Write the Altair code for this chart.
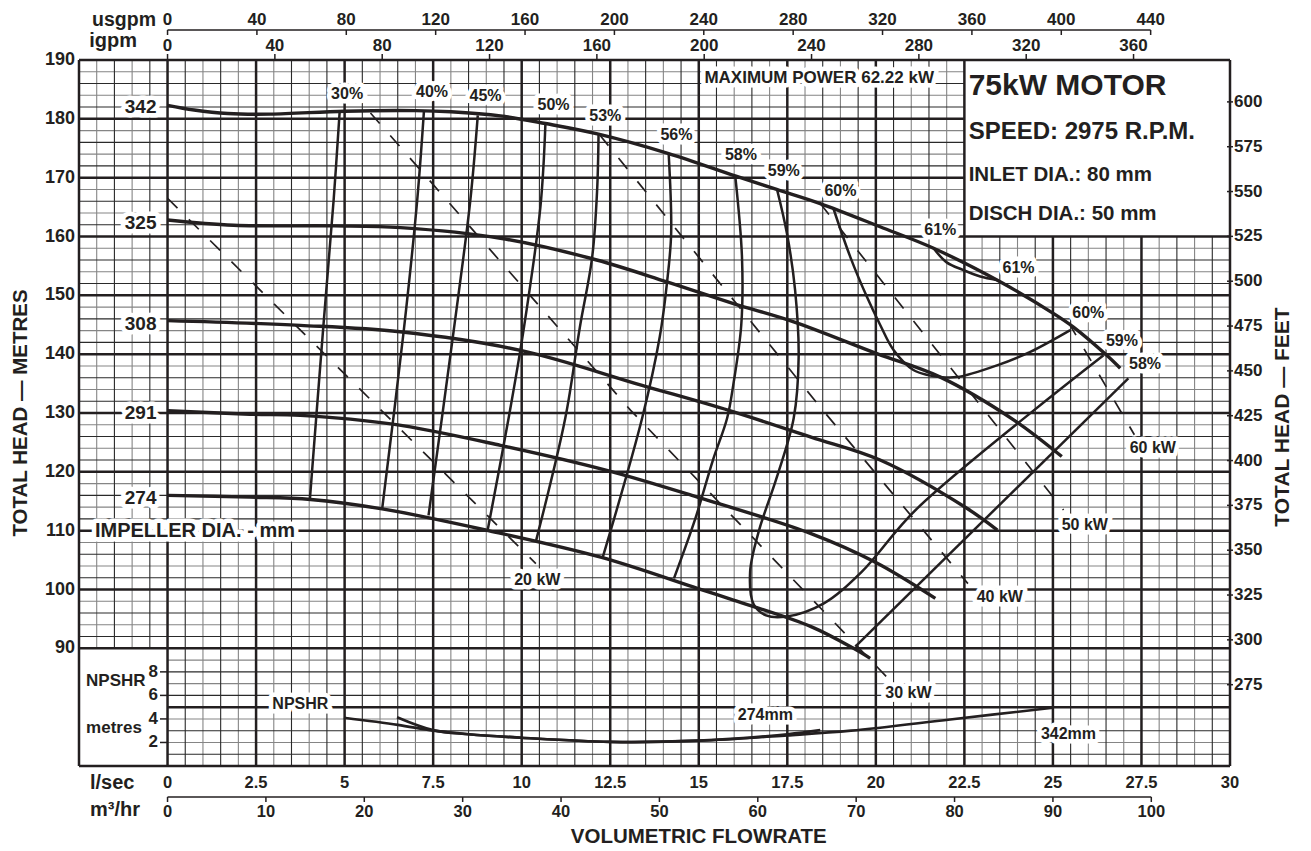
import altair as alt
import numpy as np
import pandas as pd

FONT = "Liberation Sans"
INK = "#231f20"
W, H = 1151, 706
XS = alt.Scale(domain=[-2.5, 30], nice=False, zero=False)
YS = alt.Scale(domain=[70, 190], nice=False, zero=False)

# ---------------- impeller head curves (flow l/sec, head m) ----------------
imp_names = ["342", "325", "308", "291", "274"]
imp_342_q = [0, 0.75, 1.7, 2.9, 5.0, 7.0, 8.0, 9.4, 10.67, 12.17, 14.15, 16.03, 17.2, 18.43, 20.12, 21.63, 23.42, 25.02, 25.58, 26.52, 26.9]
imp_342_h = [182.3, 181.5, 180.9, 180.8, 181.3, 181.4, 181.2, 180.5, 179.2, 177.4, 174.1, 170.3, 168.0, 165.6, 161.65, 158.0, 152.6, 146.9, 144.6, 139.8, 137.6]
imp_325_q = [0, 1.87, 4.7, 6.58, 9.4, 11.94, 14.1, 15.98, 17.68, 20.03, 21.82, 23.9, 25.25]
imp_325_h = [162.8, 161.9, 161.8, 161.5, 159.7, 156.3, 152.3, 148.6, 145.5, 140.1, 136.1, 128.8, 122.6]
imp_308_q = [0, 3.75, 6.56, 10.0, 13.4, 15.87, 18.17, 20.12, 22.57, 23.43]
imp_308_h = [145.7, 144.9, 143.8, 140.6, 134.7, 130.4, 125.9, 122.0, 113.8, 110.1]
imp_291_q = [0, 2.32, 3.75, 6.36, 9.4, 12.43, 14.96, 18.17, 20.0, 21.68]
imp_291_h = [130.4, 129.8, 129.6, 128.1, 124.5, 120.2, 115.7, 109.5, 104.6, 98.5]
imp_274_q = [0, 2.32, 4.04, 6.06, 8.99, 12.23, 14.96, 15.98, 18.17, 19.37, 19.84]
imp_274_h = [116.0, 115.7, 115.3, 113.7, 110.1, 105.5, 100.2, 98.2, 93.7, 90.0, 88.3]

# ---------------- iso-efficiency curves ----------------
e30_q = [4.86, 4.69, 4.39, 4.02]
e30_h = [181.2, 166.2, 144.0, 115.4]
e40_q = [7.24, 7.05, 6.67, 6.06]
e40_h = [181.3, 166.2, 144.0, 113.7]
e45_q = [8.76, 8.55, 8.08, 7.37]
e45_h = [180.6, 166.2, 144.0, 112.6]
e50_q = [10.67, 10.53, 10.05, 9.63, 9.04]
e50_h = [179.2, 165.1, 144.0, 129.1, 110.1]
e53_q = [12.17, 12.13, 11.99, 11.64, 11.23, 10.41]
e53_h = [177.4, 167.9, 156.5, 144.5, 129.1, 108.4]
e56_q = [14.15, 14.22, 14.1, 13.9, 13.4, 12.28]
e56_h = [174.1, 160.5, 152.0, 143.0, 129.1, 105.3]
e58a_q = [16.03, 16.22, 16.2, 15.98, 15.8, 15.4, 14.9, 14.3]
e58a_h = [170.3, 156.5, 145.0, 135.0, 129.1, 122.0, 112.0, 101.9]
e58b_q = [19.42, 27.13]
e58b_h = [90.3, 135.9]
e59_q = [17.21, 17.49, 17.72, 17.82, 17.68, 17.2, 16.7, 16.45, 16.55, 16.9, 17.48, 18.52, 19.6, 21.17, 26.43]
e59_h = [168.0, 160.5, 150.9, 139.5, 129.1, 119.0, 110.0, 103.0, 97.5, 95.6, 95.4, 97.6, 103.0, 113.8, 139.8]
e60_q = [18.8, 19.28, 19.75, 20.12, 20.5, 21.06, 21.5, 21.82, 22.29, 23.42, 24.36, 25.49]
e60_h = [164.8, 156.5, 149.7, 145.0, 140.7, 137.3, 136.4, 136.1, 136.1, 138.1, 140.4, 144.1]
e61_q = [21.63, 22.0, 22.47, 22.95, 23.42]
e61_h = [158.0, 155.6, 154.3, 153.2, 152.6]

# ---------------- power lines (dashed) ----------------
p20_q = [0, 10.4]
p20_h = [166.5, 104.4]
p30_q = [5.73, 13.07, 20.36]
p30_h = [181.0, 130.5, 84.8]
p40_q = [12.2, 18.43, 22.6]
p40_h = [177.3, 131.0, 101.0]
p50_q = [18.43, 25.3]
p50_h = [165.6, 113.5]
p60_q = [25.45, 27.3]
p60_h = [145.3, 126.3]

# ---------------- NPSHR curves (metres NPSHR) ----------------
n342_q = [4.98, 6.5, 7.5, 8.5, 10, 12.5, 15, 17.5, 19.3, 22.1, 25.0]
n342_v = [4.1, 3.5, 3.0, 2.7, 2.4, 2.05, 2.15, 2.6, 3.0, 3.95, 4.95]
n274_q = [6.48, 7.5, 8.5, 10, 12.5, 15, 17.5, 18.43]
n274_v = [4.15, 3.05, 2.7, 2.4, 2.05, 2.15, 2.7, 3.05]

# ---------------- labels ----------------
imp_label_q = -0.76
imp_label_h = [182.0, 162.3, 145.2, 130.0, 115.5]
eff_labels = ["30%", "40%", "45%", "50%", "53%", "56%", "58%", "59%", "60%", "61%", "61%", "60%", "59%", "58%"]
eff_label_q = [5.07, 7.47, 8.98, 10.9, 12.36, 14.37, 16.19, 17.4, 19.0, 21.82, 24.03, 26.0, 26.95, 27.6]
eff_label_h = [184.3, 184.6, 183.9, 182.3, 180.5, 177.2, 173.8, 171.2, 167.8, 161.1, 154.7, 147.0, 142.2, 138.3]
kw_labels = ["20 kW", "30 kW", "40 kW", "50 kW", "60 kW"]
kw_label_q = [10.44, 20.92, 23.5, 25.9, 27.82]
kw_label_h = [101.6, 82.4, 98.7, 110.9, 124.0]
npsh_labels = ["274mm", "342mm", "NPSHR"]
npsh_label_q = [16.88, 25.44, 3.75]
npsh_label_h = [78.6, 75.5, 80.6]

# axis tick values
metres_ticks = list(range(90, 191, 10))
lsec_ticks = [0, 2.5, 5, 7.5, 10, 12.5, 15, 17.5, 20, 22.5, 25, 27.5, 30]
m3hr_ticks = list(range(0, 101, 10))
usgpm_ticks = list(range(0, 441, 40))
igpm_ticks = list(range(0, 361, 40))
feet_ticks = list(range(275, 601, 25))
npshr_ticks = [2, 4, 6, 8]

USGPM = 0.0630902   # l/sec per usgpm
IGPM = 0.0757682    # l/sec per igpm
FT = 0.3048

def npsh_to_head(v):
    return [70 + 2 * x for x in v]

# ---------------- build tables ----------------
def curves(named):
    rows = []
    for name, qs, hs in named:
        for i, (q, h) in enumerate(zip(qs, hs)):
            rows.append(dict(curve=name, i=i, q=q, h=h))
    return pd.DataFrame(rows)

imp_df = curves([("342", imp_342_q, imp_342_h), ("325", imp_325_q, imp_325_h),
                 ("308", imp_308_q, imp_308_h), ("291", imp_291_q, imp_291_h),
                 ("274", imp_274_q, imp_274_h)])
eff_df = curves([("30", e30_q, e30_h), ("40", e40_q, e40_h), ("45", e45_q, e45_h),
                 ("50", e50_q, e50_h), ("53", e53_q, e53_h), ("56", e56_q, e56_h),
                 ("58a", e58a_q, e58a_h), ("58b", e58b_q, e58b_h), ("59", e59_q, e59_h),
                 ("60", e60_q, e60_h), ("61", e61_q, e61_h)])
pow_df = curves([("20", p20_q, p20_h), ("30", p30_q, p30_h), ("40", p40_q, p40_h),
                 ("50", p50_q, p50_h), ("60", p60_q, p60_h)])
npsh_df = curves([("342", n342_q, npsh_to_head(n342_v)), ("274", n274_q, npsh_to_head(n274_v))])

# grid
grid_rows = []
for q in np.round(np.arange(-2.5, 30.001, 0.5), 2):
    r = q / 2.5
    if abs(r - round(r)) < 1e-9:
        kind = "major"
    elif abs((q - np.floor(q)) - 0.5) < 1e-9:
        kind = "dark"
    else:
        kind = "light"
    y0 = 90 if (-2.5 < q < 0) else 70
    y1 = 160 if (22.5 < q < 30) else 190
    grid_rows.append(dict(x=float(q), x2=float(q), y=y0, y2=y1, kind=kind))
for h in range(70, 191, 2):
    m = h % 10
    kind = "major" if m == 0 else ("dark" if m in (2, 6) else "light")
    x0 = 0 if (70 < h < 90) else -2.5
    x1 = 22.5 if (160 < h < 190) else 30
    grid_rows.append(dict(x=x0, x2=x1, y=h, y2=h, kind=kind))
grid_df = pd.DataFrame(grid_rows)


def X(f="q"):
    return alt.X(f"{f}:Q", scale=XS, axis=None)


def Y(f="h"):
    return alt.Y(f"{f}:Q", scale=YS, axis=None)


layers = []
for kind, col, sw in [("light", "#858585", 1.1), ("dark", "#2a2a2a", 1.1), ("major", INK, 2.5)]:
    layers.append(
        alt.Chart(grid_df[grid_df.kind == kind]).mark_rule(color=col, strokeWidth=sw).encode(
            x=X("x"), x2="x2:Q", y=Y("y"), y2="y2:Q")
    )

# curves
layers.append(alt.Chart(pow_df).mark_line(color=INK, strokeWidth=1.7, strokeDash=[14, 16]).encode(
    x=X(), y=Y(), detail="curve:N", order="i:Q"))
layers.append(alt.Chart(eff_df).mark_line(color=INK, strokeWidth=2.5, interpolate="catmull-rom").encode(
    x=X(), y=Y(), detail="curve:N", order="i:Q"))
layers.append(alt.Chart(imp_df).mark_line(color=INK, strokeWidth=3.4, interpolate="catmull-rom").encode(
    x=X(), y=Y(), detail="curve:N", order="i:Q"))
layers.append(alt.Chart(npsh_df).mark_line(color=INK, strokeWidth=2.7, interpolate="catmull-rom").encode(
    x=X(), y=Y(), detail="curve:N", order="i:Q"))


def text_layers(df, size, align="center", halo=True, weight="bold", x=None, y=None,
                baseline="middle", angle=0, halo_w=9):
    enc = dict(text="t:N", x=x if x is not None else X(), y=y if y is not None else Y())
    out = []
    kw = dict(font=FONT, fontSize=size, fontWeight=weight, align=align, baseline=baseline, angle=angle)
    if halo:
        out.append(alt.Chart(df).mark_text(fill="white", stroke="white", strokeWidth=halo_w,
                                           strokeJoin="round", **kw).encode(**enc))
    out.append(alt.Chart(df).mark_text(color=INK, **kw).encode(**enc))
    return out

# in-plot labels
layers += text_layers(pd.DataFrame(dict(t=imp_names, q=imp_label_q, h=imp_label_h)), 19)
layers += text_layers(pd.DataFrame(dict(t=eff_labels, q=eff_label_q, h=eff_label_h)), 16)
layers += text_layers(pd.DataFrame(dict(t=kw_labels, q=kw_label_q, h=kw_label_h)), 16)
layers += text_layers(pd.DataFrame(dict(t=npsh_labels, q=npsh_label_q, h=npsh_label_h)), 16)
layers += text_layers(pd.DataFrame(dict(t=["IMPELLER DIA. - mm"], q=[-2.05], h=[110])), 20, align="left")
layers += text_layers(pd.DataFrame(dict(t=["MAXIMUM POWER 62.22 kW"], q=[18.4], h=[186.9])), 17)

# motor box text
layers += text_layers(pd.DataFrame(dict(t=["75kW MOTOR"], q=[22.62], h=[185.5])), 30, align="left", halo=False)
layers += text_layers(pd.DataFrame(dict(t=["SPEED: 2975 R.P.M."], q=[22.62], h=[177.8])), 24, align="left", halo=False)
layers += text_layers(pd.DataFrame(dict(t=["INLET DIA.: 80 mm", "DISCH DIA.: 50 mm"], q=[22.62, 22.62],
                                        h=[170.5, 163.9])), 20.5, align="left", halo=False)

# NPSHR box on left
layers += text_layers(pd.DataFrame(dict(t=["NPSHR", "metres"], q=[-2.3, -2.3], h=[84.4, 76.4])), 17,
                      align="left", halo=False)
npshr_tick_df = pd.DataFrame(dict(t=[str(v) for v in npshr_ticks], h=npsh_to_head(npshr_ticks)))
layers.append(alt.Chart(npshr_tick_df).mark_rule(color=INK, strokeWidth=1.5).encode(
    x=alt.value(81), x2=alt.value(88), y=Y()))
layers += text_layers(npshr_tick_df, 17, align="right", halo=False, x=alt.value(79))

# left metres axis labels
layers += text_layers(pd.DataFrame(dict(t=[str(v) for v in metres_ticks], h=metres_ticks)), 18,
                      align="right", halo=False, x=alt.value(-4))

# right feet axis
feet_df = pd.DataFrame(dict(t=[str(v) for v in feet_ticks], h=[v * FT for v in feet_ticks]))
layers.append(alt.Chart(feet_df).mark_rule(color=INK, strokeWidth=1.5).encode(
    x=alt.value(W - 3), x2=alt.value(W + 3), y=Y()))
layers += text_layers(feet_df, 17, align="left", halo=False, x=alt.value(W + 4))

# bottom l/sec labels
lsec_df = pd.DataFrame(dict(t=[f"{v:g}" for v in lsec_ticks], q=lsec_ticks))
layers += text_layers(lsec_df, 16.5, halo=False, y=alt.value(H + 17))

# m3/hr axis
m3_df = pd.DataFrame(dict(t=[str(v) for v in m3hr_ticks], q=[v / 3.6 for v in m3hr_ticks]))
layers.append(alt.Chart(pd.DataFrame(dict(q=[0.0], q2=[100 / 3.6]))).mark_rule(color=INK, strokeWidth=1.5).encode(
    x=X(), x2="q2:Q", y=alt.value(H + 31)))
layers.append(alt.Chart(m3_df).mark_rule(color=INK, strokeWidth=1.5).encode(
    x=X(), y=alt.value(H + 31), y2=alt.value(H + 36)))
layers += text_layers(m3_df, 16.5, halo=False, y=alt.value(H + 46))

# top usgpm axis
us_df = pd.DataFrame(dict(t=[str(v) for v in usgpm_ticks], q=[v * USGPM for v in usgpm_ticks]))
layers.append(alt.Chart(pd.DataFrame(dict(q=[0.0], q2=[440 * USGPM]))).mark_rule(color=INK, strokeWidth=1.5).encode(
    x=X(), x2="q2:Q", y=alt.value(-30)))
layers.append(alt.Chart(us_df).mark_rule(color=INK, strokeWidth=1.5).encode(
    x=X(), y=alt.value(-30), y2=alt.value(-25)))
layers += text_layers(us_df, 17, halo=False, y=alt.value(-40))

# top igpm axis
ig_df = pd.DataFrame(dict(t=[str(v) for v in igpm_ticks], q=[v * IGPM for v in igpm_ticks]))
layers.append(alt.Chart(ig_df).mark_rule(color=INK, strokeWidth=1.5).encode(
    x=X(), y=alt.value(-6), y2=alt.value(0)))
layers += text_layers(ig_df, 17, halo=False, y=alt.value(-14))

# unit names
layers += text_layers(pd.DataFrame(dict(t=["usgpm"])), 19.5, align="right", halo=False,
                      x=alt.value(77), y=alt.value(-34), baseline="alphabetic")
layers += text_layers(pd.DataFrame(dict(t=["igpm"])), 20, align="right", halo=False,
                      x=alt.value(58), y=alt.value(-13), baseline="alphabetic")
layers += text_layers(pd.DataFrame(dict(t=["l/sec"])), 20, align="left", halo=False, x=alt.value(11), y=alt.value(H + 17))
layers += text_layers(pd.DataFrame(dict(t=["m³/hr"])), 20, align="left", halo=False, x=alt.value(11), y=alt.value(H + 44))

# titles
layers += text_layers(pd.DataFrame(dict(t=["VOLUMETRIC FLOWRATE"], q=[15])), 20.5, halo=False, y=alt.value(H + 71))
layers += text_layers(pd.DataFrame(dict(t=["TOTAL HEAD — METRES"])), 20.5, halo=False,
                      x=alt.value(-58.5), y=alt.value(H / 2), angle=270)
layers += text_layers(pd.DataFrame(dict(t=["TOTAL HEAD — FEET"])), 21, halo=False,
                      x=alt.value(W + 53), y=alt.value(357), angle=270)

chart = alt.layer(*layers).properties(
    width=W, height=H,
    padding={"left": 71, "top": 52, "right": 72, "bottom": 84},
    autosize=alt.AutoSizeParams(type="none"),
    background="white",
).configure_view(stroke=None)

chart.save("out.html", embed_options={"renderer": "svg", "actions": False})
